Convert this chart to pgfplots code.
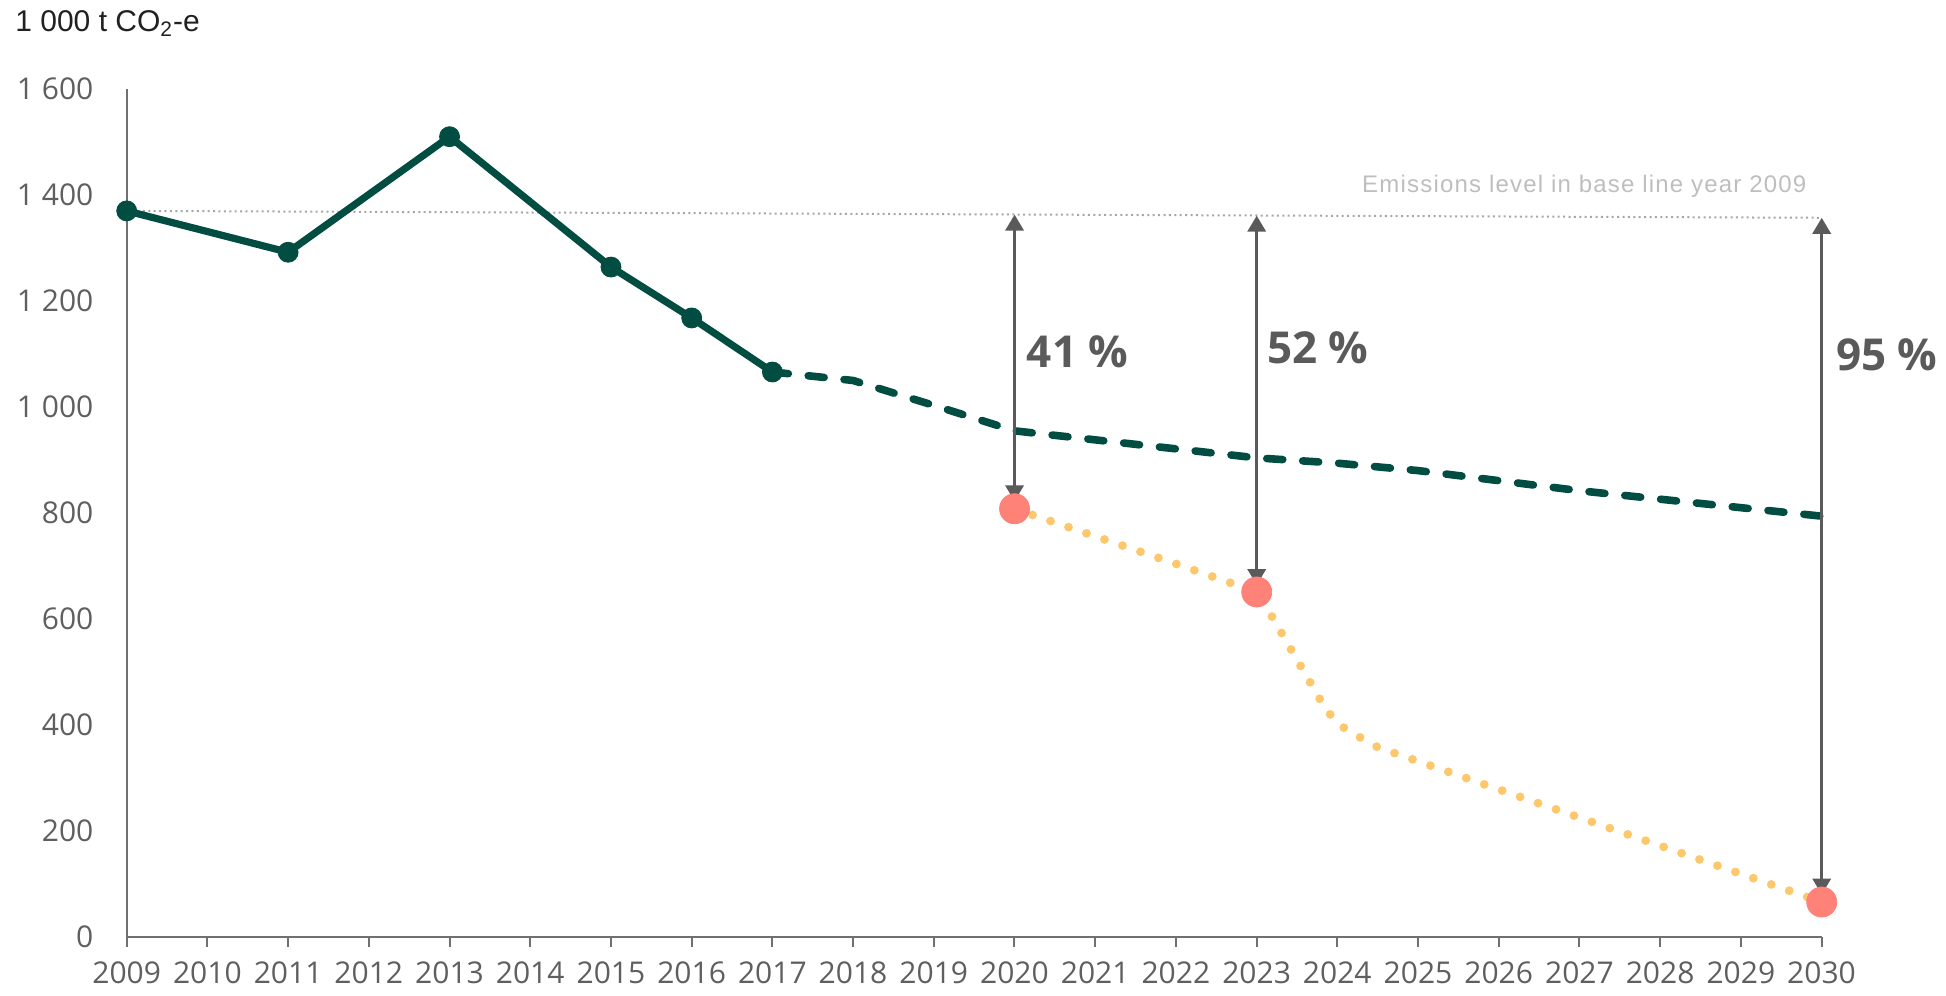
\documentclass[border=0pt]{standalone}
\usepackage{fontspec}
\setmainfont{Open Sans}
\newfontfamily\arialfont{Liberation Sans}
\usepackage{pgfplots}
\pgfplotsset{compat=1.18}
\usetikzlibrary{arrows.meta}

\definecolor{teal}{HTML}{024D42}
\definecolor{salmon}{HTML}{FF8278}
\definecolor{peach}{HTML}{FDC76B}
\definecolor{axisgrey}{HTML}{707070}
\definecolor{ticktext}{HTML}{5F5F5F}
\definecolor{arrowgrey}{HTML}{5A5A5A}
\definecolor{basegrey}{HTML}{A6A6A6}
\definecolor{notegrey}{HTML}{BEBEBE}

\begin{document}
\begin{tikzpicture}
\begin{axis}[
  at={(0,0)}, anchor=south west,
  scale only axis, width=847.5pt, height=424pt,
  xmin=2009, xmax=2030, ymin=0, ymax=1600,
  axis x line*=bottom, axis y line*=left,
  axis line style={draw=axisgrey, line width=1pt, -},
  xtick={2009,...,2030}, ytick={0,200,...,1600},
  tick align=outside, major tick length=5pt,
  xtick style={draw=axisgrey, line width=1pt},
  ytick style={draw=none},
  /pgf/number format/assume math mode=true,
  tick label style={font=\fontsize{15}{18}\selectfont, text=ticktext},
  xticklabel style={/pgf/number format/1000 sep={}, inner sep=0pt, anchor=north, yshift=-7pt},
  yticklabel style={/pgf/number format/1000 sep={\ }, inner sep=0pt, anchor=east, xshift=-11.5pt},
  clip=false,
]
% base line level 2009
\addplot[basegrey, line width=1pt, dash pattern=on 1pt off 1.7pt] coordinates {(2009,1370) (2030,1357)};

% targets
\addplot[peach, line width=4.4pt, line cap=round, dash pattern=on 0pt off 9.5pt] coordinates {
  (2020,808) (2021,756) (2022,704) (2023,651) (2023.2,602) (2023.53,515)
  (2023.87,426) (2024.1,392) (2024.5,358) (2030,66)
};

% projection
\addplot[teal, line width=3.8pt, line cap=round, line join=round, dash pattern=on 8pt off 10pt] coordinates {
  (2017,1066) (2018,1050) (2019,1003) (2020,955) (2021,938) (2022,921) (2023,904)
  (2024,894) (2025,880) (2026,861) (2027,842) (2028,826) (2029,810) (2030,794)
};

% actual emissions
\addplot[teal, line width=3.6pt, line join=round, mark=*, mark size=5pt, mark options={solid, fill=teal, line width=0.4pt}] coordinates {
  (2009,1370) (2011,1292) (2013,1510) (2015,1264) (2016,1168) (2017,1066)
};

\addplot[only marks, mark=*, mark size=7.5pt, color=salmon, mark options={fill=salmon, draw=salmon, line width=0.4pt}] coordinates {
  (2020,808) (2023,651) (2030,66)
};

% reduction arrows
\addplot[arrowgrey, line width=1.7pt, {Triangle[width=9pt,length=8pt]}-{Triangle[width=9pt,length=8pt]}] coordinates {(2020,1363) (2020,822)};
\addplot[arrowgrey, line width=1.7pt, {Triangle[width=9pt,length=8pt]}-{Triangle[width=9pt,length=8pt]}] coordinates {(2023,1361) (2023,664)};
\addplot[arrowgrey, line width=1.7pt, {Triangle[width=9pt,length=8pt]}-{Triangle[width=9pt,length=8pt]}] coordinates {(2030,1357) (2030,80)};

\node[anchor=west, inner sep=0pt, xshift=6pt, text=arrowgrey, font=\fontsize{22}{26}\selectfont\bfseries] at (axis cs:2020,1105) {41 \%};
\node[anchor=west, inner sep=0pt, xshift=5pt, text=arrowgrey, font=\fontsize{22}{26}\selectfont\bfseries] at (axis cs:2023,1111) {52 \%};
\node[anchor=west, inner sep=0pt, xshift=7pt, text=arrowgrey, font=\fontsize{22}{26}\selectfont\bfseries] at (axis cs:2030,1098) {95 \%};

\node[anchor=base east, inner sep=0pt, xshift=-7.5pt, yshift=12.5pt, text=notegrey,
  font=\arialfont\addfontfeatures{LetterSpace=5}\fontsize{12}{14}\selectfont] at (axis cs:2030,1357)
  {Emissions level in base line year 2009};
\end{axis}

\node[anchor=base west, inner sep=0pt, text=black!87, font=\arialfont\fontsize{15}{18}\selectfont]
  at (-55.85pt,452.5pt) {1 000 t CO\textsubscript{2}-e};

\pgfresetboundingbox
\path[use as bounding box] (-63.35pt,-29pt) rectangle (909.65pt,468.5pt);
\end{tikzpicture}
\end{document}
